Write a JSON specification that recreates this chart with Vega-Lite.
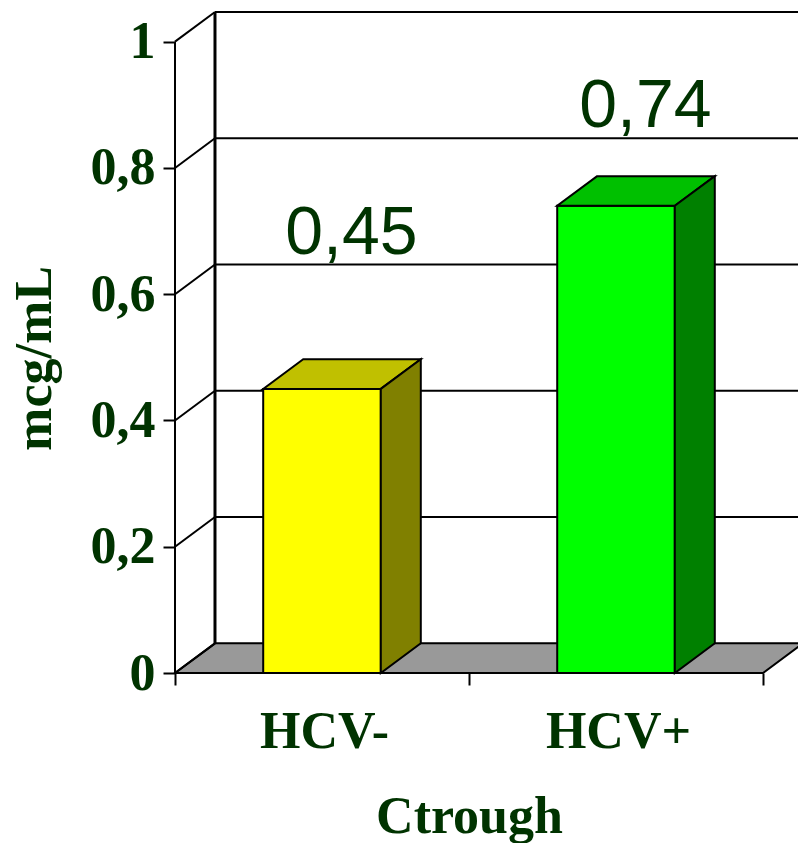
{
  "$schema": "https://vega.github.io/schema/vega-lite/v6.json",
  "width": 623,
  "height": 661,
  "autosize": {"type": "none"},
  "padding": {"left": 175, "top": 12, "right": 0, "bottom": 170},
  "background": "white",
  "params": [
    {"name": "depthX", "value": 0.136},
    {"name": "depthY", "value": 0.047},
    {"name": "halfBar", "value": 0.2}
  ],
  "datasets": {
    "trough": [
      {"group": "HCV-", "value": 0.45},
      {"group": "HCV+", "value": 0.74}
    ],
    "ticks": [
      {"v": 0}, {"v": 0.2}, {"v": 0.4}, {"v": 0.6}, {"v": 0.8}, {"v": 1}
    ],
    "planes": [{"k": 0}, {"k": 1}]
  },
  "config": {
    "view": {"stroke": null},
    "axis": {
      "labelFont": "Liberation Serif",
      "labelFontWeight": "bold",
      "labelFontSize": 52,
      "labelColor": "#003300",
      "titleFont": "Liberation Serif",
      "titleFontWeight": "bold",
      "titleFontSize": 52,
      "titleColor": "#003300",
      "tickColor": "black",
      "tickWidth": 2,
      "tickSize": 12,
      "grid": false,
      "domain": false
    }
  },
  "resolve": {"scale": {"fill": "independent"}},
  "layer": [
    {
      "data": {"name": "planes"},
      "transform": [
        {"calculate": "datum.k * depthY", "as": "fy"},
        {"calculate": "datum.k * depthX", "as": "fx0"},
        {"calculate": "2 + datum.k * depthX", "as": "fx1"}
      ],
      "mark": {"type": "area", "orient": "horizontal", "fill": "#999999", "stroke": "black", "strokeWidth": 2},
      "encoding": {
        "y": {
          "field": "fy", "type": "quantitative",
          "scale": {"domain": [0, 1.047], "nice": false, "zero": false},
          "axis": {
            "values": [0, 0.2, 0.4, 0.6, 0.8, 1],
            "format": ".1~f",
            "labelExpr": "replace(datum.label, '.', ',')",
            "labelPadding": 8,
            "title": "mcg/mL",
            "titleAngle": -90,
            "titleAlign": "center",
            "titleBaseline": "alphabetic",
            "titleX": -125,
            "titleY": 346
          }
        },
        "x": {
          "field": "fx0", "type": "quantitative",
          "scale": {"domain": [0, 2.119], "nice": false, "zero": false},
          "axis": {
            "values": [0, 1, 2],
            "labelExpr": "datum.value == 0 ? 'HCV-' : datum.value == 1 ? 'HCV+' : ''",
            "labelOffset": 149,
            "labelFlush": false,
            "labelOverlap": false,
            "labelBaseline": "alphabetic",
            "labelPadding": 62,
            "title": "Ctrough",
            "titleBaseline": "alphabetic",
            "titleX": 294,
            "titleY": 159
          }
        },
        "x2": {"field": "fx1"}
      }
    },
    {
      "data": {"name": "ticks"},
      "transform": [
        {"calculate": "datum.v + depthY", "as": "gy"},
        {"calculate": "depthX", "as": "gx0"},
        {"calculate": "0", "as": "fx"}
      ],
      "layer": [
        {
          "transform": [{"filter": "datum.v > 0"}],
          "mark": {"type": "rule", "stroke": "black", "strokeWidth": 2},
          "encoding": {
            "y": {"field": "gy", "type": "quantitative"},
            "x": {"field": "gx0", "type": "quantitative"},
            "x2": {"datum": 2.119}
          }
        },
        {
          "mark": {"type": "rule", "stroke": "black", "strokeWidth": 2},
          "encoding": {
            "x": {"field": "fx", "type": "quantitative"},
            "y": {"field": "v", "type": "quantitative"},
            "x2": {"field": "gx0"},
            "y2": {"field": "gy"}
          }
        },
        {
          "mark": {"type": "line", "stroke": "black", "strokeWidth": 3},
          "encoding": {
            "x": {"field": "gx0", "type": "quantitative"},
            "y": {"field": "gy", "type": "quantitative"},
            "order": {"field": "v"}
          }
        },
        {
          "mark": {"type": "line", "stroke": "black", "strokeWidth": 2},
          "encoding": {
            "x": {"field": "fx", "type": "quantitative"},
            "y": {"field": "v", "type": "quantitative"},
            "order": {"field": "v"}
          }
        }
      ]
    },
    {
      "data": {"name": "trough"},
      "transform": [
        {"window": [{"op": "row_number", "as": "i"}]},
        {"calculate": "datum.i - 0.5", "as": "c"},
        {"calculate": "datum.c - halfBar", "as": "x0"},
        {"calculate": "datum.c + halfBar", "as": "x1"}
      ],
      "resolve": {"scale": {"fill": "independent"}},
      "layer": [
        {
          "mark": {"type": "rect", "stroke": "black", "strokeWidth": 2},
          "encoding": {
            "x": {"field": "x0", "type": "quantitative"},
            "x2": {"field": "x1"},
            "y": {"field": "value", "type": "quantitative"},
            "y2": {"datum": 0},
            "fill": {
              "field": "group", "type": "nominal", "legend": null,
              "scale": {"domain": ["HCV-", "HCV+"], "range": ["#FFFF00", "#00FF00"]}
            }
          }
        },
        {
          "transform": [
            {"calculate": "[0, 1]", "as": "k"},
            {"flatten": ["k"]},
            {"calculate": "datum.value + datum.k * depthY", "as": "ty"},
            {"calculate": "datum.x0 + datum.k * depthX", "as": "ta"},
            {"calculate": "datum.x1 + datum.k * depthX", "as": "tb"}
          ],
          "mark": {"type": "area", "orient": "horizontal", "stroke": "black", "strokeWidth": 2},
          "encoding": {
            "y": {"field": "ty", "type": "quantitative"},
            "x": {"field": "ta", "type": "quantitative"},
            "x2": {"field": "tb"},
            "fill": {
              "field": "group", "type": "nominal", "legend": null,
              "scale": {"domain": ["HCV-", "HCV+"], "range": ["#C0C000", "#00C000"]}
            }
          }
        },
        {
          "transform": [
            {"calculate": "[0, 1]", "as": "k"},
            {"flatten": ["k"]},
            {"calculate": "datum.x1 + datum.k * depthX", "as": "sx"},
            {"calculate": "datum.k * depthY", "as": "sy0"},
            {"calculate": "datum.value + datum.k * depthY", "as": "sy1"}
          ],
          "mark": {"type": "area", "orient": "vertical", "stroke": "black", "strokeWidth": 2},
          "encoding": {
            "x": {"field": "sx", "type": "quantitative"},
            "y": {"field": "sy1", "type": "quantitative"},
            "y2": {"field": "sy0"},
            "fill": {
              "field": "group", "type": "nominal", "legend": null,
              "scale": {"domain": ["HCV-", "HCV+"], "range": ["#808000", "#008000"]}
            }
          }
        },
        {
          "transform": [
            {"calculate": "replace(format(datum.value, '.2f'), '.', ',')", "as": "label"},
            {"calculate": "ceil(datum.value * 5) / 5 + depthY", "as": "ly"},
            {"calculate": "datum.c + 0.1", "as": "lx"}
          ],
          "mark": {
            "type": "text",
            "font": "Liberation Sans",
            "fontSize": 68,
            "fill": "#003300",
            "align": "center",
            "baseline": "alphabetic",
            "dy": -11
          },
          "encoding": {
            "x": {"field": "lx", "type": "quantitative"},
            "y": {"field": "ly", "type": "quantitative"},
            "text": {"field": "label"}
          }
        }
      ]
    }
  ]
}
